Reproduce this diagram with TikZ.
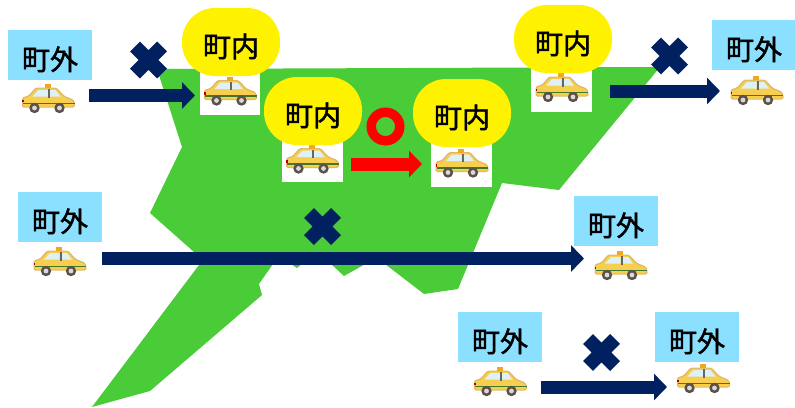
\documentclass[tikz,border=0pt]{standalone}
\usepackage{fontspec}
\newfontfamily\cjk[FakeBold=1.6]{Noto Sans CJK JP}
\usetikzlibrary{arrows.meta}
\definecolor{areagreen}{HTML}{4ACB38}
\definecolor{skyblue}{HTML}{8BE0FF}
\definecolor{navyblue}{HTML}{002060}
\definecolor{cabyellow}{HTML}{F8CE4E}
\definecolor{cabedge}{HTML}{DDB768}
\definecolor{cabglass}{HTML}{DDF1F8}
\definecolor{cabwheel}{HTML}{5C5048}
\definecolor{cabstripe}{HTML}{3F7A2C}
\definecolor{cabsign}{HTML}{F2A81E}
\tikzset{
	townlabel/.style={inner sep=0pt, text height=30pt, text depth=0pt, font=\cjk\fontsize{28}{28}\selectfont},
	outside/.style={townlabel, fill=skyblue, minimum width=84pt, minimum height=50pt},
	inside/.style={townlabel, fill=yellow, rounded corners=33pt, minimum width=98pt, minimum height=68pt},
	backing/.style={fill=white, minimum width=60pt, inner sep=0pt},
	goarrow/.style={line width=13pt, -{Triangle[length=13pt,width=26pt]}},
	taxi/.pic={
		\fill [cabedge, rounded corners=1.5pt] (-26.5,9) -- (-26.5,-1) -- (-20,-3) -- (-13,-11) -- (8,-11) -- (16,-2.5) -- (25,1) -- (27,6) -- (26,9) -- cycle;
		\fill [cabyellow, rounded corners=1.5pt] (-25.5,8) -- (-25.5,0) -- (-19,-2) -- (-12,-10) -- (7,-10) -- (15,-1.5) -- (24,2) -- (26,6) -- (25,8) -- cycle;
		\fill [cabglass] (-16,-2) -- (-10,-8.5) -- (-0.5,-8.5) -- (-0.5,-2) -- cycle;
		\fill [cabglass] (1.5,-8.5) -- (7,-8.5) -- (12,-2) -- (1.5,-2) -- cycle;
		\fill [black!60] (-0.5,-9.5) rectangle (1.5,-1);
		\fill [cabstripe] (-25.5,4) rectangle (26,5.8);
		\fill [cabsign] (-4,-14.5) rectangle (2,-10.5);
		\fill [red!70!black] (-26.5,1) rectangle (-25,3.5);
		\fill [cabwheel] (-14,9.5) circle(5.2pt) (11,9.5) circle(5.2pt);
		\fill [black!15] (-14,9.5) circle(2.4pt) (11,9.5) circle(2.4pt);
	},
	crossmark/.pic={
		\draw [navyblue, line width=14pt] (-13.5,-13.5) -- (13.5,13.5) (-13.5,13.5) -- (13.5,-13.5);
	}
}
\begin{document}
\begin{tikzpicture}[x=1pt,y=-1pt]
	\useasboundingbox (0,0) rectangle (795,407);

	% town area
	\fill [areagreen] (157,69) -- (660,67) -- (559,190) -- (502,183) -- (458,289) -- (424,294) -- (385,264) -- (376,258) -- (344,276) -- (330,263) -- (304,262) -- (297,268) -- (291,264) -- (273,264) -- (259,284) -- (262,295) -- (150,391) -- (92,407) -- (199,265) -- (194,252) -- (150,213) -- (182,147) -- cycle;

	% taxis standing inside the town
	\node [backing, minimum height=50pt] (standA) at (230,90) {};
	\node [backing, minimum width=61pt, minimum height=50pt] (standB) at (312.5,157) {};
	\node [backing, minimum width=61pt, minimum height=50pt] (standC) at (461.5,162) {};
	\node [backing, minimum width=61pt, minimum height=50pt] (standD) at (561.5,87) {};

	\pic (carB) at (230.5,91) {taxi};
	\pic (carC) at (312.5,159) {taxi};
	\pic (carD) at (462,163) {taxi};
	\pic (carE) at (562,87.5) {taxi};

	\node [inside] (inA) at (231,42) {町内};
	\node [inside] (inB) at (313,111) {町内};
	\node [inside] (inC) at (462,113) {町内};
	\node [inside] (inD) at (563,39) {町内};

	% outside the town
	\node [outside] (outA) at (50,55) {町外};
	\node [outside] (outB) at (754,45) {町外};
	\node [outside] (outC) at (60,217) {町外};
	\node [outside] (outD) at (616,221) {町外};
	\node [outside] (outE) at (500,337) {町外};
	\node [outside] (outF) at (697,337) {町外};

	\pic (carA) at (48.5,98.5) {taxi};
	\pic (carF) at (757,90.5) {taxi};
	\pic (carG) at (60,261.5) {taxi};
	\pic (carH) at (621,265.5) {taxi};
	\pic (carI) at (500.5,381.5) {taxi};
	\pic (carJ) at (703.5,378.5) {taxi};

	% arrows
	\coordinate (startA) at (89,95.5);
	\coordinate (endA) at (195,95.5);
	\coordinate (startB) at (351,164);
	\coordinate (endB) at (422,164);
	\coordinate (startC) at (610,91);
	\coordinate (endC) at (720,91);
	\coordinate (startD) at (102,258.5);
	\coordinate (endD) at (584,258.5);
	\coordinate (startE) at (541,387);
	\coordinate (endE) at (667,387);

	\draw [goarrow, navyblue] (startA) -- (endA);
	\draw [goarrow, red] (startB) -- (endB);
	\draw [goarrow, navyblue] (startC) -- (endC);
	\draw [goarrow, navyblue] (startD) -- (endD);
	\draw [goarrow, navyblue] (startE) -- (endE);

	% marks
	\pic (crossA) at (148.5,60) {crossmark};
	\pic (crossB) at (669.5,56) {crossmark};
	\pic (crossC) at (322.5,226.5) {crossmark};
	\pic (crossD) at (601.5,352.5) {crossmark};
	\node [circle, draw=red, line width=9.5pt, minimum size=28.5pt, inner sep=0pt] (okmark) at (385.5,126.5) {};
\end{tikzpicture}
\end{document}
